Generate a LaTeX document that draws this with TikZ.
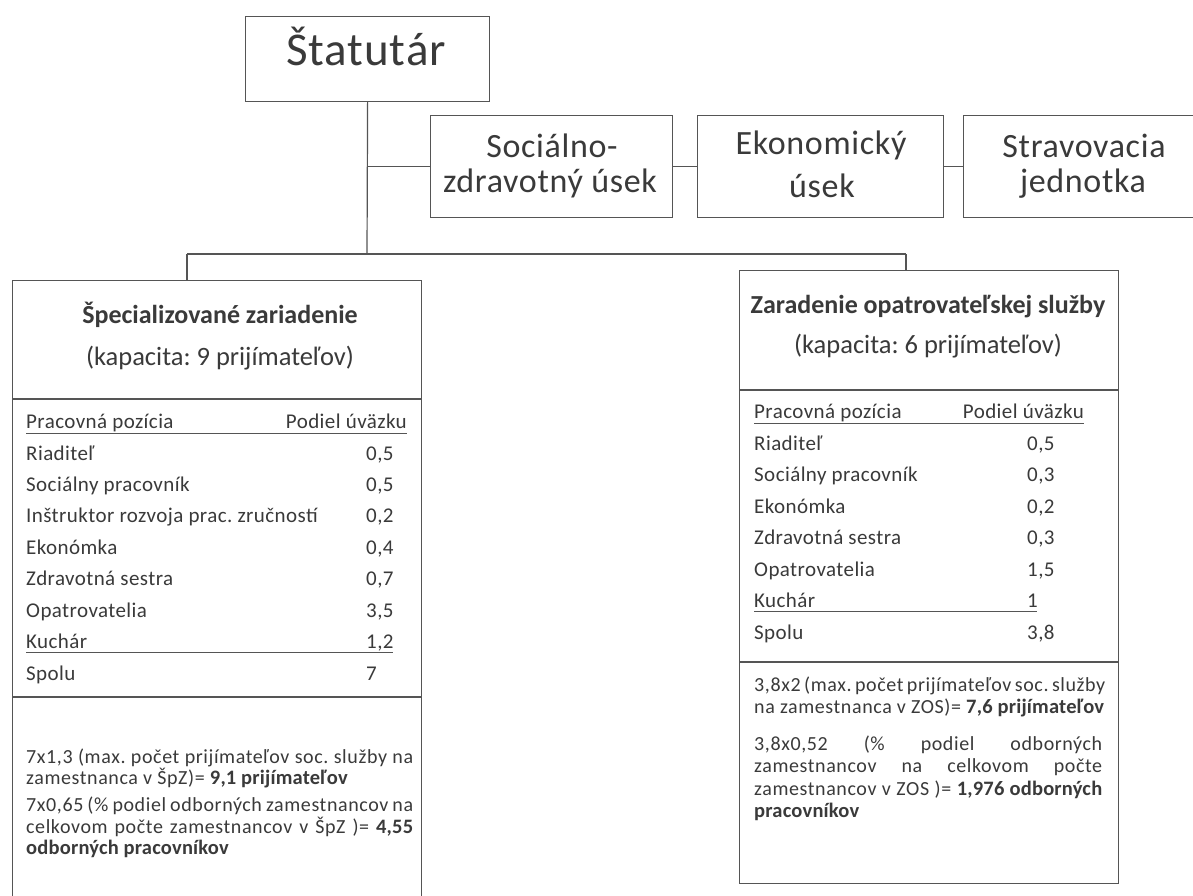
\documentclass[tikz,border=0pt]{standalone}
\usepackage{fontspec}
\setmainfont{Carlito}
\newfontfamily\paraf[LetterSpace=3]{Carlito}
\newfontfamily\parabf[LetterSpace=1]{Carlito}
\newfontfamily\cellf[LetterSpace=2]{Carlito}
\newfontfamily\boxf[LetterSpace=2]{Carlito}
\newcommand\bd[1]{{\parabf\bfseries\fontsize{20.5}{21.5}\selectfont #1}}
\newcommand\justline[2]{\noindent\makebox[#1][s]{#2}\par}
\newcommand\plainline[1]{\noindent\mbox{#1}\par}
\definecolor{ink}{HTML}{3A3A3A}
\definecolor{rulec}{HTML}{555555}
\begin{document}
\frenchspacing
\begin{tikzpicture}[x=1pt,y=-1pt,
  box/.style={draw=rulec, line width=1.2pt, rectangle, inner sep=0pt, anchor=north west},
  lbl/.style={inner sep=0pt, text=ink},
  big/.style={lbl, anchor=base, font=\boxf\fontsize{34}{38}\selectfont},
  ttl/.style={lbl, anchor=base, font=\fontsize{26.5}{30}\selectfont},
  cell/.style={lbl, anchor=base west, font=\cellf\fontsize{21}{25}\selectfont},
  celle/.style={lbl, anchor=base east, font=\cellf\fontsize{21}{25}\selectfont},
  link/.style={draw=rulec, line width=1.2pt},
  uline/.style={draw=rulec, line width=0.9pt},
  para/.style={lbl, anchor=base west}
]
\clip (0,0) rectangle (1193,895);
\fill[white] (0,0) rectangle (1193,895);

% boxes
\node[box, minimum width=244pt, minimum height=85pt] (stat) at (245,16) {};
\node[box, minimum width=242pt, minimum height=102pt] (soc) at (430,115) {};
\node[box, minimum width=246pt, minimum height=102pt] (eko) at (697,115) {};
\node[box, minimum width=260pt, minimum height=102pt] (stra) at (963,115) {};
\node[box, minimum width=409pt, minimum height=640pt] (spz) at (12,280) {};
\node[box, minimum width=379pt, minimum height=613pt] (zos) at (739,270) {};

% dividers
\draw[link] ([yshift=-119pt]spz.north west) -- ([yshift=-119pt]spz.north east);
\draw[link] ([yshift=-417pt]spz.north west) -- ([yshift=-417pt]spz.north east);
\draw[link] ([yshift=-120pt]zos.north west) -- ([yshift=-120pt]zos.north east);
\draw[link] ([yshift=-392pt]zos.north west) -- ([yshift=-392pt]zos.north east);

% connectors
\coordinate (j) at (367,254);
\coordinate (bl) at (187,254);
\coordinate (br) at (906,254);
\draw[link] (stat.south) -- (j);
\draw[link] (stat.south |- soc.west) -- (soc.west);
\draw[link] (soc.east) -- (eko.west);
\draw[link] (eko.east) -- (stra.west);
\draw[link] (bl) -- (br);
\draw[link] (bl) -- (bl |- spz.north);
\draw[link] (br) -- (br |- zos.north);

% top texts
\node[lbl, anchor=base, font=\boxf\fontsize{47}{50}\selectfont] (tstat) at (366,65) {Štatutár};
\node[big] (tsoc1) at (552,157) {Sociálno-};
\node[big] (tsoc2) at (550,192) {zdravotný úsek};
\node[big] (teko1) at (821,154) {Ekonomický};
\node[big] (teko2) at (822,197) {úsek};
\node[big] (tstr1) at (1084,157) {Stravovacia};
\node[big] (tstr2) at (1083,192) {jednotka};

% left box
\node[ttl, font=\bfseries\fontsize{26}{30}\selectfont] (spzt) at (220,323) {Špecializované zariadenie};
\node[ttl] (spzk) at (220,365) {(kapacita: 9 prijímateľov)};
\node[cell] (lh1) at (26,428) {Pracovná pozícia};
\node[celle] (lh2) at (407,428) {Podiel úväzku};
\draw[uline] (26,433) -- (407,433);
\node[cell] (l1) at (26,460) {Riaditeľ};        \node[cell] (v1) at (366,460) {0,5};
\node[cell] (l2) at (26,491) {Sociálny pracovník};  \node[cell] (v2) at (366,491) {0,5};
\node[cell] (l3) at (26,522) {Inštruktor rozvoja prac. zručností}; \node[cell] (v3) at (366,522) {0,2};
\node[cell] (l4) at (26,554) {Ekonómka};        \node[cell] (v4) at (366,554) {0,4};
\node[cell] (l5) at (26,585) {Zdravotná sestra}; \node[cell] (v5) at (366,585) {0,7};
\node[cell] (l6) at (26,617) {Opatrovatelia};   \node[cell] (v6) at (366,617) {3,5};
\node[cell] (l7) at (26,648) {Kuchár};          \node[cell] (v7) at (366,648) {1,2};
\draw[uline] (26,652) -- (393,652);
\node[cell] (l8) at (26,680) {Spolu};           \node[cell] (v8) at (366,680) {7};

\node[para] (lp) at (26,763) {\parbox[t]{387pt}{\paraf\fontsize{20}{21.5}\selectfont\lineskiplimit=-100pt\parskip=0pt
\justline{387pt}{7x1,3 (max. počet prijímateľov soc. služby na}
\plainline{zamestnanca v ŠpZ)= \bd{9,1 prijímateľov}}
\vspace{5.5pt}
\justline{387pt}{7x0,65 (\% podiel odborných zamestnancov na}
\justline{387pt}{celkovom počte zamestnancov v ŠpZ )= \bd{4,55}}
\plainline{\bd{odborných pracovníkov}}}};

% right box
\node[ttl, font=\bfseries\fontsize{26}{30}\selectfont] (zost) at (928,313) {Zaradenie opatrovateľskej služby};
\node[ttl] (zosk) at (928,353) {(kapacita: 6 prijímateľov)};
\node[cell] (rh1) at (754,418) {Pracovná pozícia};
\node[celle] (rh2) at (1084,418) {Podiel úväzku};
\draw[uline] (754,423) -- (1084,423);
\node[cell] (r1) at (754,450) {Riaditeľ};        \node[cell] (w1) at (1027,450) {0,5};
\node[cell] (r2) at (754,481) {Sociálny pracovník};  \node[cell] (w2) at (1027,481) {0,3};
\node[cell] (r3) at (754,513) {Ekonómka};        \node[cell] (w3) at (1027,513) {0,2};
\node[cell] (r4) at (754,544) {Zdravotná sestra}; \node[cell] (w4) at (1027,544) {0,3};
\node[cell] (r5) at (754,576) {Opatrovatelia};   \node[cell] (w5) at (1027,576) {1,5};
\node[cell] (r6) at (754,607) {Kuchár};          \node[cell] (w6) at (1027,607) {1};
\draw[uline] (754,611) -- (1037,611);
\node[cell] (r7) at (754,639) {Spolu};           \node[cell] (w7) at (1027,639) {3,8};

\node[para] (rp) at (754,691) {\parbox[t]{348pt}{\paraf\fontsize{20}{22.5}\selectfont\lineskiplimit=-100pt\parskip=0pt
\justline{348pt}{3,8x2 (max. počet prijímateľov soc. služby}
\plainline{na zamestnanca v ZOS)= \bd{7,6 prijímateľov}}
\vspace{14pt}
\justline{348pt}{3,8x0,52 (\% podiel odborných}
\justline{348pt}{zamestnancov na celkovom počte}
\justline{348pt}{zamestnancov v ZOS )= \bd{1,976 odborných}}
\plainline{\bd{pracovníkov}}}};
\end{tikzpicture}
\end{document}
